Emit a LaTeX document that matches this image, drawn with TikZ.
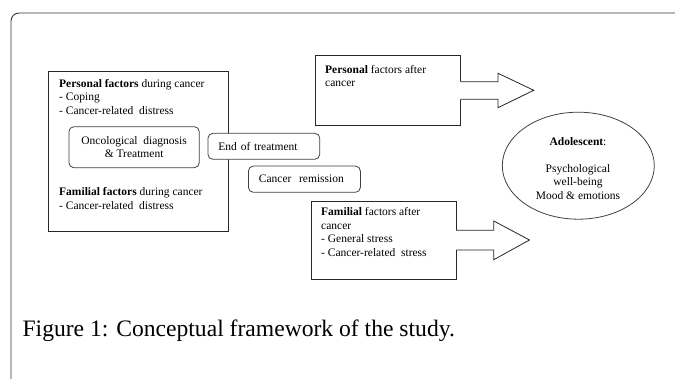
\documentclass[tikz,border=0pt]{standalone}
\usepackage{fontspec}
\setmainfont{Liberation Serif}
\usetikzlibrary{shapes.geometric}
\begin{document}
\begin{tikzpicture}[x=1pt,y=-1pt,
  txt/.style={anchor=north west,inner sep=0pt,align=left,font=\fontsize{11.5}{13.5}\selectfont},
  ctxt/.style={inner sep=0pt,align=center,font=\fontsize{11.5}{13.3}\selectfont},
  sqbox/.style={draw=black!85,line width=0.8pt,fill=white},
  rbox/.style={draw=black!75,line width=0.8pt,rounded corners=5pt,fill=white},
  arr/.style={draw=black!85,line width=0.8pt,line join=miter}]
\useasboundingbox (0,0) rectangle (675,379);
% frame
\draw[black!80,line width=0.9pt] (11,385) -- (11,21) arc[start angle=180,end angle=270,radius=8] -- (680,13);
% left box
\draw[sqbox] (48.6,71.3) rectangle (228.2,231.3);
\node[txt] (pdur) at (59,78.8) {\textbf{Personal factors} during cancer\\- Coping\\- Cancer-related\ \ distress};
\node[txt] (fdur) at (59,187.3) {\textbf{Familial factors} during cancer\\- Cancer-related\ \ distress};
\node[rbox,minimum width=130.4pt,minimum height=41pt,ctxt] (onco) at (134.1,147.2) {Oncological\ \ diagnosis\\\&\ Treatment};
\node[rbox,minimum width=111.9pt,minimum height=26pt,anchor=west,font=\fontsize{11.5}{13.3}\selectfont,text width=90.9pt,inner xsep=10.5pt,align=left] (eot) at (207.5,146.3) {End of treatment};
\node[rbox,minimum width=112pt,minimum height=26.3pt,anchor=west,font=\fontsize{11.5}{13.3}\selectfont,text width=91pt,inner xsep=10.5pt,align=left] (rem) at (248,179.2) {Cancer\ \ remission};
% personal after box with arrow
\draw[sqbox] (315.5,55.3) rectangle (460.6,125.3);
\fill[white] (460,81.7) -- (498,81.7) -- (498,73.3) -- (533.8,90.3) -- (498,107.7) -- (498,99.3) -- (460,99.3) -- cycle;
\draw[arr] (460.6,81.7) -- (498,81.7) -- (498,73.3) -- (533.8,90.3) -- (498,107.7) -- (498,99.3) -- (460.6,99.3);
\node[txt] (paft) at (325,65) {\textbf{Personal} factors after\\cancer};
% familial after box with arrow
\draw[sqbox] (311.2,201.3) rectangle (456.3,279);
\fill[white] (455.7,230.3) -- (493.8,230.3) -- (493.8,221) -- (529.5,240) -- (493.8,259.7) -- (493.8,250) -- (455.7,250) -- cycle;
\draw[arr] (456.3,230.3) -- (493.8,230.3) -- (493.8,221) -- (529.5,240) -- (493.8,259.7) -- (493.8,250) -- (456.3,250);
\node[txt] (faft) at (321,207.5) {\textbf{Familial} factors after\\cancer\\- General stress\\- Cancer-related\ \ stress};
% ellipse
\node[draw=black!75,line width=0.8pt,ellipse,minimum width=152pt,minimum height=107pt,inner sep=0pt] (ado) at (578.3,165.7) {};
\node[ctxt] (adot) at (578,168.5) {\textbf{Adolescent}:\\[13.3pt]Psychological\\well-being\\Mood \&\ emotions};
% caption
\node[anchor=base west,inner sep=0pt,font=\fontsize{23.6}{27}\selectfont] (cap) at (22.4,336.5) {Figure 1: Conceptual framework of the study.};
\end{tikzpicture}
\end{document}
